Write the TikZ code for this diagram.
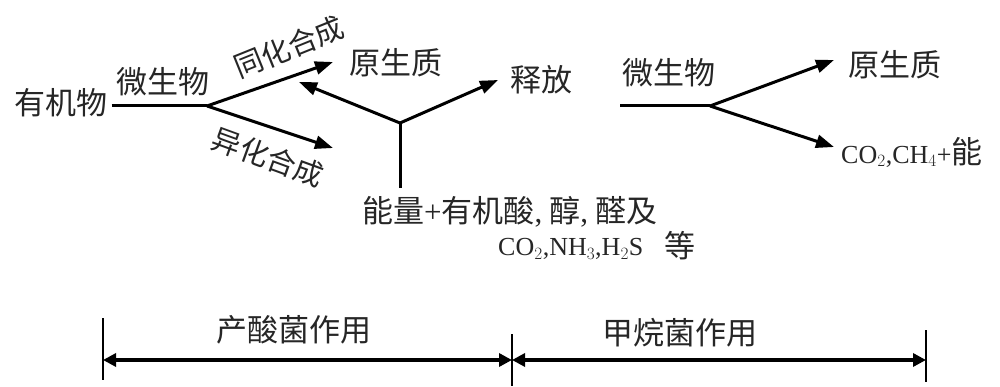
\documentclass[tikz,border=0pt]{standalone}
\usepackage{fontspec}
\setmainfont{Liberation Serif}
\newfontfamily\cjk{Noto Sans CJK SC}
\usetikzlibrary{arrows.meta}
\tikzset{
  lab/.style={font=\cjk\fontsize{31}{31}\selectfont, inner sep=0pt, text=black!85},
  rlab/.style={font=\cjk\fontsize{29}{29}\selectfont, inner sep=0pt, text=black!85},
  chem/.style={font=\fontsize{26}{26}\selectfont, inner sep=0pt, text=black!85},
  flow/.style={line width=3pt, -{Triangle[length=18pt,width=13pt]}},
  plain/.style={line width=3pt},
  span/.style={line width=4pt, {Triangle[length=13pt,width=13pt]}-{Triangle[length=13pt,width=13pt]}},
  tick/.style={line width=2pt}
}
\begin{document}
\begin{tikzpicture}[x=1pt,y=-1pt]
\useasboundingbox[fill=white] (0,0) rectangle (1000,387);
% left part
\node[lab] (org) at (61,103) {有机物};
\node[lab] (mic1) at (163,82) {微生物};
\node[rlab, rotate=22] (tonghua) at (289,47) {同化合成};
\node[rlab, rotate=-20] (yihua) at (268,157) {异化合成};
\node[lab] (yuan1) at (396,63) {原生质};
\node[lab] (shifang) at (541,80) {释放};
\node[lab, anchor=west] (energy) at (362,212) {能量{\rmfamily +}有机酸{\rmfamily,} 醇{\rmfamily,} 醛及};
\node[chem, anchor=west] (gas) at (498,249) {CO$_2$,NH$_3$,H$_2$S};
\node[lab] (deng) at (680,246) {等};
\coordinate (b1) at (207,106);
\coordinate (y0) at (400,123);
\draw[plain] (org.east) ++(4,3) -- (b1);
\draw[flow] (b1) -- (333,62);
\draw[flow] (b1) -- (333,148);
\draw[flow] (y0) -- (299,82);
\draw[flow] (y0) -- (498,80);
\draw[plain] (y0) -- (400,188);
% right part
\node[lab] (mic2) at (669,73) {微生物};
\node[lab] (yuan2) at (895,65) {原生质};
\node[chem, anchor=west] (co2) at (841,152) {CO$_2$,CH$_4$+{\cjk\fontsize{31}{31}\selectfont 能}};
\coordinate (b2) at (710,106);
\draw[plain] (620,106) -- (b2);
\draw[flow] (b2) -- (834,60);
\draw[flow] (b2) -- (834,147);
% bottom
\node[lab] (acid) at (294,330) {产酸菌作用};
\node[lab] (meth) at (680,333) {甲烷菌作用};
\coordinate (t1) at (103,360);
\coordinate (t2) at (512,360);
\coordinate (t3) at (926,360);
\draw[tick] (103,318) -- (103,380);
\draw[tick] (512,334) -- (512,386);
\draw[tick] (926,330) -- (926,382);
\draw[span] (t1) -- (t2);
\draw[span] (t2) -- (t3);
\end{tikzpicture}
\end{document}
